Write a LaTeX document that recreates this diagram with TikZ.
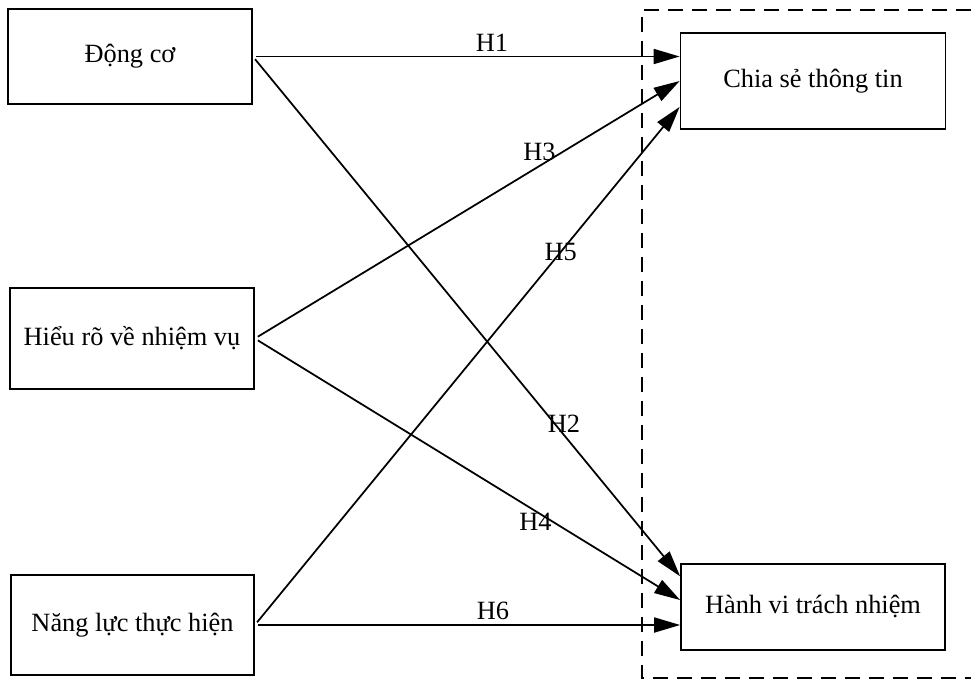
\documentclass[tikz,border=0pt]{standalone}
\usepackage{fontspec}
\setmainfont{Liberation Serif}
\usetikzlibrary{arrows.meta,positioning,calc}

\begin{document}
\begin{tikzpicture}[x=0.02cm,y=-0.02cm,
    construct/.style={draw,line width=1pt,align=center,
        font=\fontsize{15}{18}\selectfont},
    link/.style={-{Triangle[length=0.52cm,width=0.3cm]},line width=1pt,
        shorten <=2pt},
    hyp/.style={font=\fontsize{15}{18}\selectfont,inner sep=2.5pt}]
\useasboundingbox (0,0) rectangle (971,680);
% group of outcomes
\draw[line width=1pt,dash pattern=on 0.3cm off 0.18cm]
    (971,10) -- (642,10) -- (642,678) -- (971,678);
% constructs
\node[construct,minimum width=4.88cm,minimum height=1.9cm]  (dong) at (130,56.5) {Động cơ};
\node[construct,minimum width=4.88cm,minimum height=2.02cm] (hieu) at (132,338.5) {Hiểu rõ về nhiệm vụ};
\node[construct,minimum width=4.86cm,minimum height=2.0cm]  (nang) at (132.5,625) {Năng lực thực hiện};
\node[construct,minimum width=5.3cm,minimum height=1.92cm]  (chia) at (813,81) {Chia sẻ thông tin};
\node[construct,minimum width=5.28cm,minimum height=1.73cm] (hanh) at (813,607) {Hành vi trách nhiệm};
% hypotheses
\draw[link] (dong.east) -- (chia.west |- dong.east)
    node[hyp,pos=0.56,above]{H1};
\draw[link] (dong.east) -- (hanh.167)
    node[hyp,pos=0.72,xshift=2pt,yshift=4pt]{H2};
\draw[link] (hieu.east) -- (chia.west)
    node[hyp,pos=0.67,above]{H3};
\draw[link] (hieu.east) -- (hanh.177)
    node[hyp,pos=0.66,yshift=-0.22cm]{H4};
\draw[link] (nang.east) -- (chia.191)
    node[hyp,pos=0.72]{H5};
\draw[link] (nang.east) -- (hanh.west |- nang.east)
    node[hyp,pos=0.56,above]{H6};
\end{tikzpicture}
\end{document}
